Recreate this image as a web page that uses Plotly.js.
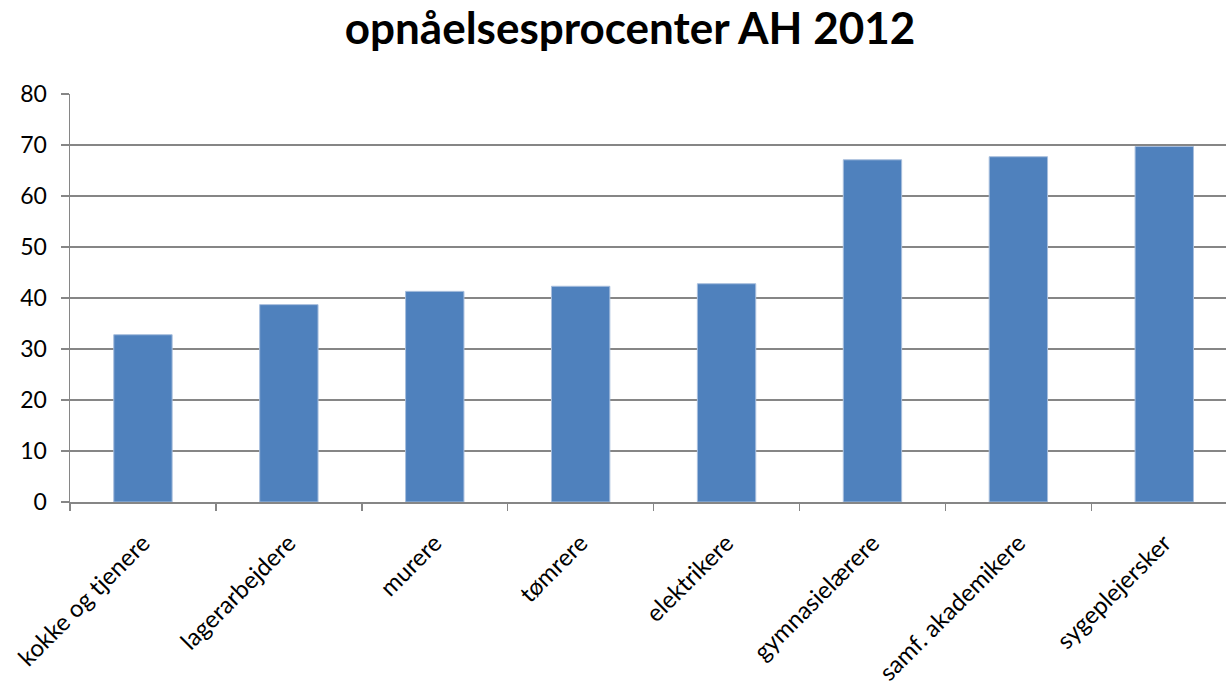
<!DOCTYPE html>
<html>
<head>
<meta charset="utf-8">
<script src="https://cdn.plot.ly/plotly-3.0.1.min.js"></script>
<style>html,body{margin:0;padding:0;background:#fff;}#chart{width:1226px;height:685px;}</style>
</head>
<body>
<div id="chart"></div>
<script>
const categories = ["kokke og tjenere","lagerarbejdere","murere","tømrere","elektrikere","gymnasielærere","samf. akademikere","sygeplejersker"];
const values = [32.8, 38.7, 41.3, 42.3, 42.8, 67.1, 67.7, 69.7];
const yTicks = [0,10,20,30,40,50,60,70,80];
const chartTitle = "opnåelsesprocenter AH 2012";

const font = "Lato, 'Open Sans', sans-serif";
const trace = {
  type: "bar",
  x: categories,
  y: values,
  marker: {color: "#4F81BD", line: {color: "#A7BEDD", width: 1}},
  hoverinfo: "x+y"
};
const layout = {
  width: 1226, height: 685,
  margin: {l: 70, r: 0, t: 94.3, b: 183.3},
  paper_bgcolor: "#fff", plot_bgcolor: "#fff",
  showlegend: false,
  bargap: 0.6,
  title: {text: "<b>" + chartTitle + "</b>", x: 630/1226, xanchor: "center", xref: "container", y: 1 - 29/685, yanchor: "middle", yref: "container",
          font: {family: font, size: 44, color: "#000"}},
  xaxis: {
    type: "category",
    range: [-0.5, 7.423],
    tickangle: -45,
    tickson: "boundaries",
    ticks: "outside", ticklen: 7, tickwidth: 1.5, tickcolor: "#868686",
    showline: true, linecolor: "#868686", linewidth: 1.5,
    showgrid: false,
    tickfont: {family: font, size: 24, color: "#000"},
    ticklabelstandoff: 16,
    ticklabelshift: 0,
    fixedrange: true
  },
  yaxis: {
    range: [0, 80],
    tickvals: yTicks,
    ticks: "outside", ticklen: 8, tickwidth: 1.5, tickcolor: "#868686",
    showline: true, linecolor: "#868686", linewidth: 1.5,
    showgrid: true, gridcolor: "#868686", gridwidth: 1.3,
    zeroline: false,
    tickfont: {family: font, size: 23, color: "#000"},
    ticklabelstandoff: 9,
    fixedrange: true
  }
};
Plotly.newPlot("chart", [trace], layout, {displayModeBar: false, staticPlot: true});
</script>
</body>
</html>
